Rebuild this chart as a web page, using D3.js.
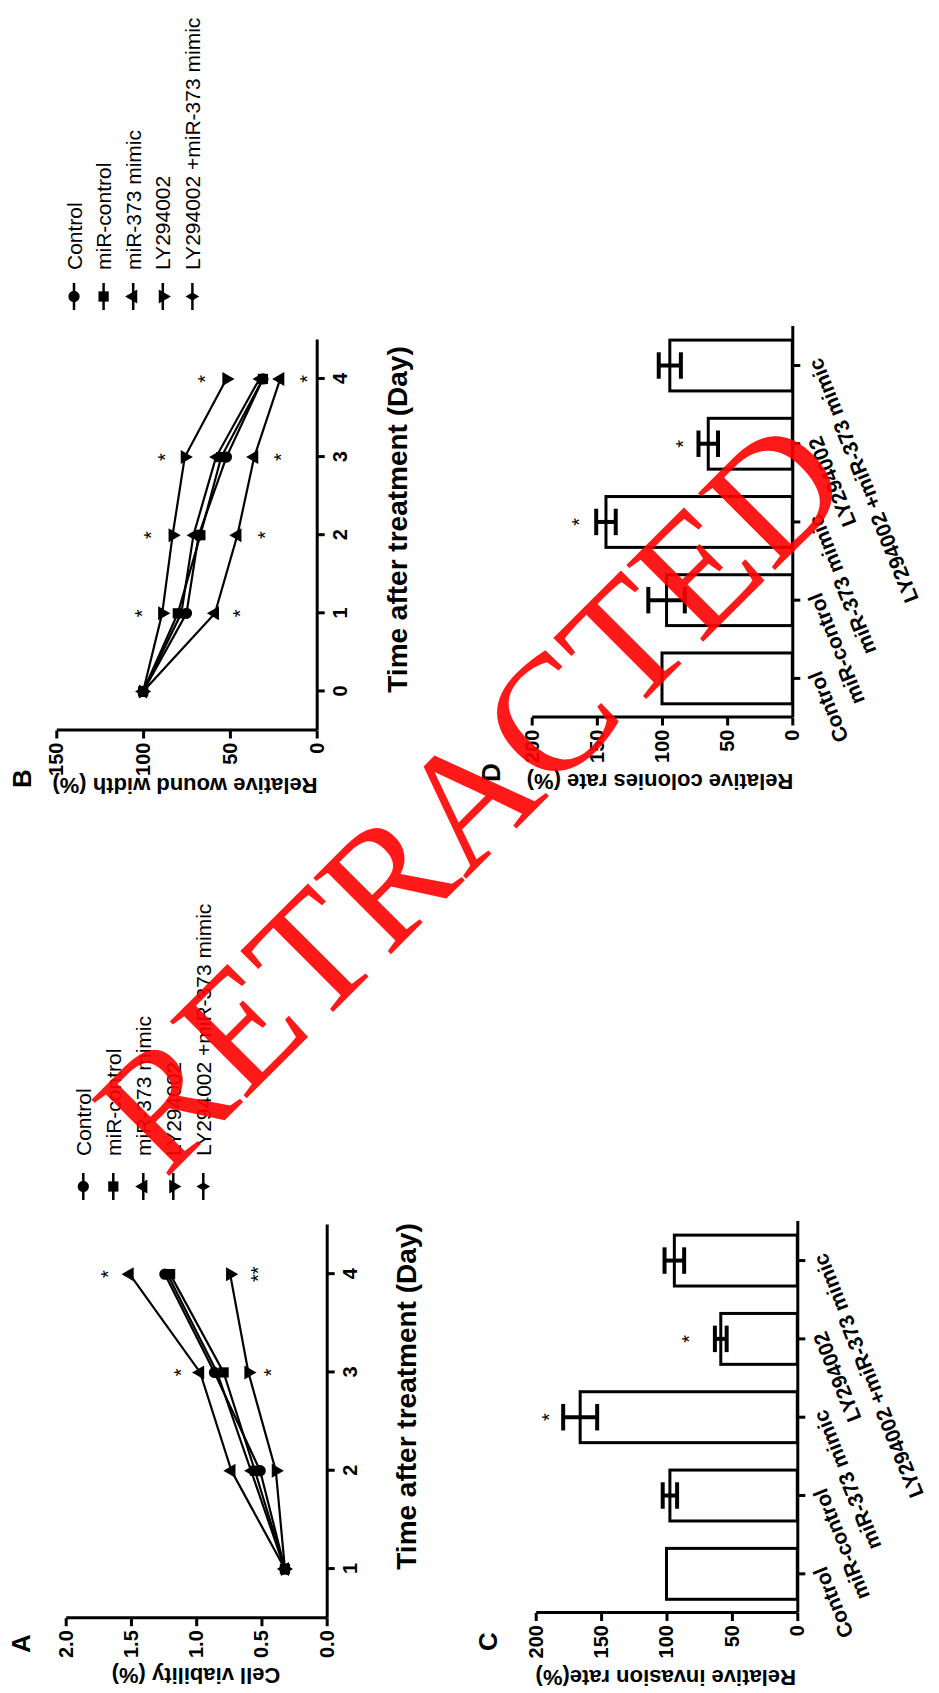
<!DOCTYPE html>
<html><head><meta charset="utf-8">
<script src="https://cdn.jsdelivr.net/npm/d3@7/dist/d3.min.js"></script>
<style>body{margin:0;background:#fff} svg{display:block;background:#fff}</style>
</head><body><svg id="c" width="939" height="1693"></svg>
<script>
// ---------- DATA ----------
const groups = ["Control", "miR-control", "miR-373 mimic", "LY294002", "LY294002 +miR-373 mimic"];
const symbolNames = ["circle", "square", "triangle", "triangleDown", "diamond"];

// Panel A: cell viability (%)
const daysA = [1, 2, 3, 4];
const viabControl = [0.32, 0.51, 0.86, 1.24];
const viabMiRControl = [0.32, 0.55, 0.79, 1.20];
const viabMiR373 = [0.32, 0.73, 0.97, 1.51];
const viabLY = [0.32, 0.39, 0.60, 0.74];
const viabLYmiR = [0.32, 0.58, 0.84, 1.22];
const ticksA = [0, 0.5, 1.0, 1.5, 2.0];
const starDaysA = [3, 3, 4, 4];
const starValsA = [1.15, 0.46, 1.71, 0.56];
const starTextA = ["*", "*", "*", "**"];

// Panel B: relative wound width (%)
const daysB = [0, 1, 2, 3, 4];
const woundControl = [100, 75, 68, 52, 31];
const woundMiRControl = [100, 80, 67, 55, 31];
const woundMiR373 = [100, 58.6, 45.7, 36, 21];
const woundLY = [100, 89, 83, 76, 52];
const woundLYmiR = [100, 78, 71, 58, 33];
const ticksB = [0, 50, 100, 150];
const starDaysB = [1, 1, 2, 2, 3, 3, 4, 4];
const starValsB = [103, 47, 98, 32.6, 90, 23, 66.6, 8];
const starTextB = ["*", "*", "*", "*", "*", "*", "*", "*"];

// Panel C: relative invasion rate (%)
const invasionMean = [100, 97.4, 166, 58.5, 94];
const invasionErr = [0, 5.5, 13, 4.5, 7.5];
const invasionStar = [null, null, 193, 86, null];
// Panel D: relative colonies rate (%)
const coloniesMean = [100, 96.5, 143, 64.5, 94];
const coloniesErr = [0, 14, 7.5, 7.5, 8.5];
const coloniesStar = [null, null, 167, 87, null];
const ticksBar = [0, 50, 100, 150, 200];

// ---------- DRAWING ----------
const FONT = "'Liberation Sans', Arial, Helvetica, sans-serif";
const svg = d3.select("#c");
svg.append("rect").attr("width", 939).attr("height", 1693).attr("fill", "#fff");
// whole figure is rotated by -90 degrees
const root = svg.append("g").attr("transform", "translate(0,1693) rotate(-90)");

const triDown = { draw(ctx, size) {
  const y = Math.sqrt(size / (3 * Math.sqrt(3)));
  ctx.moveTo(0, y * 2); ctx.lineTo(-Math.sqrt(3) * y, -y); ctx.lineTo(Math.sqrt(3) * y, -y); ctx.closePath(); } };
const symType = { circle: d3.symbolCircle, square: d3.symbolSquare, triangle: d3.symbolTriangle, triangleDown: triDown, diamond: d3.symbolDiamond };
const symSize = { circle: 100, square: 105, triangle: 85, triangleDown: 85, diamond: 55 };

function styleAxis(g, fs) {
  g.attr("font-family", FONT).attr("font-size", fs).attr("font-weight", "bold");
  g.select(".domain").attr("stroke", "#000").attr("stroke-width", 3);
  g.selectAll(".tick line").attr("stroke", "#000").attr("stroke-width", 3);
  g.selectAll(".tick text").attr("fill", "#000");
}

function drawLinePanel(p) {
  const g = root.append("g");
  const x = d3.scaleLinear().domain(p.xDomain).range(p.xRange);
  const y = d3.scaleLinear().domain(p.yDomain).range(p.yRange);
  const gx = g.append("g").attr("transform", `translate(0,${y(0)})`)
    .call(d3.axisBottom(x).tickValues(p.days).tickSize(8).tickPadding(8).tickSizeOuter(0).tickFormat(d3.format("d")));
  styleAxis(gx, 20);
  const gy = g.append("g").attr("transform", `translate(${x(p.xDomain[0])},0)`)
    .call(d3.axisLeft(y).tickValues(p.yTicks).tickSize(8).tickPadding(4).tickSizeOuter(0).tickFormat(p.fmt));
  styleAxis(gy, 20);

  const line = d3.line().x((d, j) => x(p.days[j])).y(d => y(d));
  p.series.forEach((s, i) => {
    g.append("path").datum(s).attr("d", line).attr("fill", "none").attr("stroke", "#000").attr("stroke-width", 2.2);
  });
  p.series.forEach((s, i) => {
    const nm = symbolNames[i];
    g.selectAll(null).data(s).enter().append("path")
      .attr("d", d3.symbol().type(symType[nm]).size(symSize[nm]))
      .attr("transform", (d, j) => `translate(${x(p.days[j])},${y(d)})`)
      .attr("fill", "#000");
  });
  // significance stars
  g.selectAll(null).data(p.starVals).enter().append("text")
    .attr("x", (d, j) => x(p.starDays[j])).attr("y", d => y(d)).attr("dy", "0.57em")
    .attr("text-anchor", "middle").attr("font-family", FONT).attr("font-size", 20).attr("fill", "#000")
    .text((d, j) => p.starText[j]);
  // legend
  const lg = g.append("g");
  groups.forEach((name, i) => {
    const yy = p.legY0 + i * p.legStep;
    lg.append("line").attr("x1", p.legX0).attr("x2", p.legX1).attr("y1", yy).attr("y2", yy)
      .attr("stroke", "#000").attr("stroke-width", 2.5);
    const nm = symbolNames[i];
    lg.append("path").attr("d", d3.symbol().type(symType[nm]).size(symSize[nm]))
      .attr("transform", `translate(${(p.legX0 + p.legX1) / 2},${yy})`).attr("fill", "#000");
    lg.append("text").attr("x", p.legTextX).attr("y", yy).attr("dy", "0.36em")
      .attr("font-family", FONT).attr("font-size", 21).text(name);
  });
  // axis titles
  g.append("text").attr("x", p.xTitle[0]).attr("y", p.xTitle[1]).attr("text-anchor", "middle")
    .attr("font-family", FONT).attr("font-size", 28).attr("font-weight", "bold").text("Time after treatment (Day)");
  g.append("text").attr("transform", `translate(${p.yTitle[0]},${p.yTitle[1]}) rotate(-90)`)
    .attr("text-anchor", "middle").attr("font-family", FONT).attr("font-size", 22).attr("font-weight", "bold").text(p.yLabel);
  g.append("text").attr("x", p.panel[0]).attr("y", p.panel[1]).attr("font-family", FONT)
    .attr("font-size", 26).attr("font-weight", "bold").text(p.panelLabel);
}

function drawBarPanel(p) {
  const g = root.append("g");
  const x = d3.scaleBand().domain(groups).range(p.xRange).paddingInner(0.35).paddingOuter(0.175);
  const y = d3.scaleLinear().domain([0, 200]).range(p.yRange);
  const bw = x.bandwidth();
  g.selectAll(null).data(p.mean).enter().append("rect")
    .attr("x", (d, i) => x(groups[i])).attr("width", bw)
    .attr("y", d => y(d)).attr("height", d => y(0) - y(d))
    .attr("fill", "#fff").attr("stroke", "#000").attr("stroke-width", 3);
  // error bars
  const cap = bw * 0.26;
  p.mean.forEach((m, i) => {
    if (!p.err[i]) return;
    const cx = x(groups[i]) + bw / 2;
    const y1 = y(m - p.err[i]), y2 = y(m + p.err[i]);
    g.append("line").attr("x1", cx).attr("x2", cx).attr("y1", y1).attr("y2", y2).attr("stroke", "#000").attr("stroke-width", 4);
    [y1, y2].forEach(v => g.append("line").attr("x1", cx - cap).attr("x2", cx + cap).attr("y1", v).attr("y2", v)
      .attr("stroke", "#000").attr("stroke-width", 4));
  });
  p.star.forEach((s, i) => {
    if (s == null) return;
    g.append("text").attr("x", x(groups[i]) + bw / 2).attr("y", y(s)).attr("dy", "0.57em")
      .attr("text-anchor", "middle").attr("font-family", FONT).attr("font-size", 20).attr("fill", "#000").text("*");
  });
  const gx = g.append("g").attr("transform", `translate(0,${y(0)})`)
    .call(d3.axisBottom(x).tickSize(8).tickSizeOuter(0));
  styleAxis(gx, 21);
  gx.selectAll(".tick text").attr("y", 0).attr("dy", "0.35em").attr("text-anchor", "end")
    .attr("transform", "translate(6,22) rotate(-22)");
  const gy = g.append("g").attr("transform", `translate(${p.xRange[0]},0)`)
    .call(d3.axisLeft(y).tickValues(ticksBar).tickSize(8).tickPadding(4).tickSizeOuter(0));
  styleAxis(gy, 20);
  g.append("text").attr("transform", `translate(${p.yTitle[0]},${p.yTitle[1]}) rotate(-90)`)
    .attr("text-anchor", "middle").attr("font-family", FONT).attr("font-size", 22).attr("font-weight", "bold").text(p.yLabel);
  g.append("text").attr("x", p.panel[0]).attr("y", p.panel[1]).attr("font-family", FONT)
    .attr("font-size", 26).attr("font-weight", "bold").text(p.panelLabel);
}

drawLinePanel({
  days: daysA, xDomain: [0.5, 4.5], xRange: [74.8, 468], yDomain: [0, 2], yRange: [326.7, 65.7],
  yTicks: ticksA, fmt: d3.format(".1f"),
  series: [viabControl, viabMiRControl, viabMiR373, viabLY, viabLYmiR],
  starDays: starDaysA, starVals: starValsA, starText: starTextA,
  legY0: 83.3, legStep: 30, legX0: 493, legX1: 520, legTextX: 537,
  xTitle: [296.5, 416], yTitle: [25, 196], yLabel: "Cell viability (%)",
  panel: [40, 30], panelLabel: "A"
});
drawLinePanel({
  days: daysB, xDomain: [-0.5, 4.5], xRange: [962.5, 1353.1], yDomain: [0, 150], yRange: [316.7, 56.3],
  yTicks: ticksB, fmt: d3.format("d"),
  series: [woundControl, woundMiRControl, woundMiR373, woundLY, woundLYmiR],
  starDays: starDaysB, starVals: starValsB, starText: starTextB,
  legY0: 74, legStep: 29.6, legX0: 1383, legX1: 1410, legTextX: 1423,
  xTitle: [1173.5, 406.5], yTitle: [915, 185], yLabel: "Relative wound width (%)",
  panel: [905, 31], panelLabel: "B"
});
drawBarPanel({
  mean: invasionMean, err: invasionErr, star: invasionStar,
  xRange: [80, 471.6], yRange: [797.3, 535.7],
  yTitle: [23, 665.7], yLabel: "Relative invasion rate(%)", panel: [42, 497], panelLabel: "C"
});
drawBarPanel({
  mean: coloniesMean, err: coloniesErr, star: coloniesStar,
  xRange: [975.5, 1366.6], yRange: [792.3, 531.7],
  yTitle: [919, 660], yLabel: "Relative colonies rate (%)", panel: [911, 500], panelLabel: "D"
});

// RETRACTED watermark (screen coordinates)
svg.append("text").attr("transform", "translate(165,1180) rotate(-45)")
  .attr("font-family", "'Liberation Serif', 'Times New Roman', serif").attr("font-size", 166)
  .attr("fill", "rgb(255,0,0)").attr("fill-opacity", 0.9).text("RETRACTED");
</script></body></html>
